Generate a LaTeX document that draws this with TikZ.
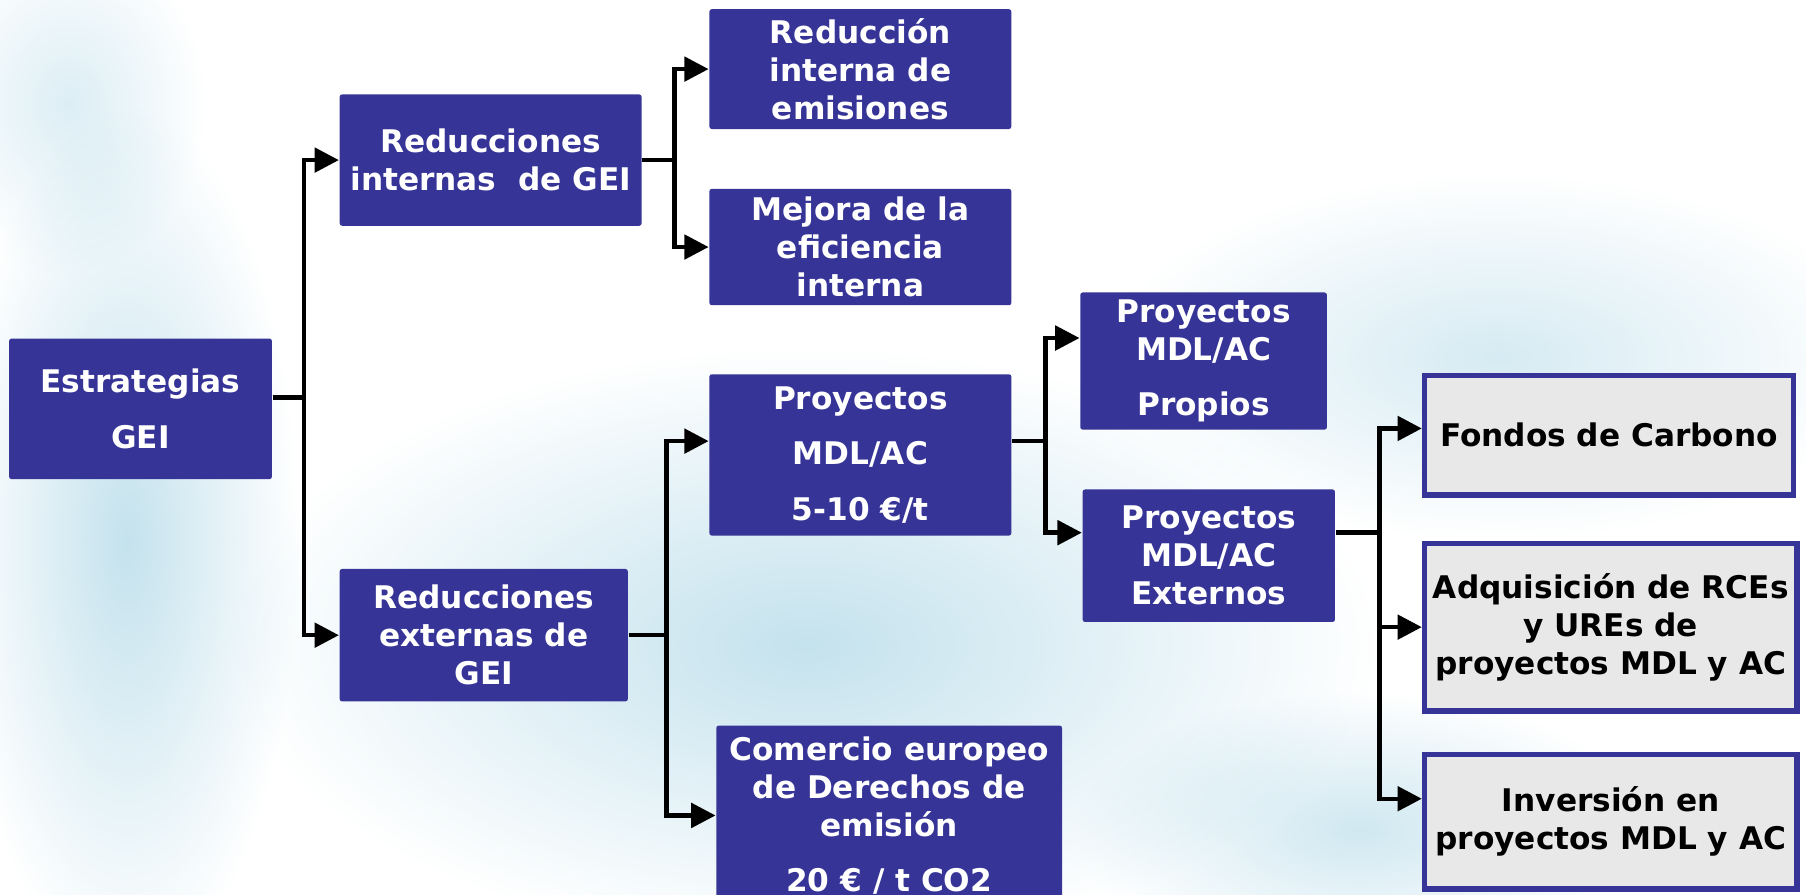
\documentclass[tikz,border=0pt]{standalone}
\usepackage{fontspec}
\setmainfont{DejaVu Sans}
\usetikzlibrary{positioning,arrows.meta}
\definecolor{boxblue}{RGB}{54,52,151}
\definecolor{boxgray}{RGB}{232,232,232}
\definecolor{haze}{RGB}{196,226,237}
\tikzset{
	boxtext/.style={font=\bfseries\fontsize{7.7}{9.4}\selectfont, align=center, inner sep=0pt},
	bluebox/.style={boxtext, rectangle, fill=boxblue, text=white, rounded corners=0.6pt},
	graybox/.style={boxtext, rectangle, draw=boxblue, line width=1.4pt, fill=boxgray, text=black},
	link/.style={line width=1.1pt, -{Triangle[length=6pt,width=6pt]}}
}

\begin{document}
\begin{tikzpicture}[x=0.01cm, y=-0.01cm]
		\useasboundingbox (0,0) rectangle (1568,777);
		\begin{scope}[blend mode=multiply]
			\shade[inner color=haze, outer color=white] (700,560) ellipse (5cm and 2.6cm);
			\shade[inner color=haze, outer color=white] (110,470) ellipse (1.5cm and 3.8cm);
			\shade[inner color=haze!70!white, outer color=white] (1300,310) ellipse (3.4cm and 1.6cm);
			\shade[inner color=haze!80!white, outer color=white] (1180,720) ellipse (2.5cm and 1.2cm);
			\shade[inner color=haze!60!white, outer color=white] (60,90) ellipse (1.2cm and 1.5cm);
		\end{scope}
		\draw (122,355) node [bluebox, minimum width=2.28cm, minimum height=1.22cm] (est) {Estrategias\\[4.3pt]GEI};
		\draw (426,139) node [bluebox, minimum width=2.62cm, minimum height=1.14cm] (rint) {Reducciones\\internas\ \ de GEI};
		\draw (747,60) node [bluebox, minimum width=2.62cm, minimum height=1.04cm] (redem) {Reducción\\interna de\\emisiones};
		\draw (747,214.5) node [bluebox, minimum width=2.62cm, minimum height=1.01cm] (mejora) {Mejora de la\\eficiencia\\interna};
		\draw (420,551.5) node [bluebox, minimum width=2.5cm, minimum height=1.15cm] (rext) {Reducciones\\externas de\\GEI};
		\draw (747,395) node [bluebox, minimum width=2.62cm, minimum height=1.4cm] (proy) {Proyectos\\[4.3pt]MDL/AC\\[4.3pt]5-10 €/t};
		\draw (772,708) node [bluebox, minimum width=3cm, minimum height=1.56cm] (comer) {Comercio europeo\\de Derechos de\\emisión\\[4.3pt]20 € / t CO2};
		\draw (1045,313.5) node [bluebox, minimum width=2.14cm, minimum height=1.19cm] (propios) {Proyectos\\MDL/AC\\[4.3pt]Propios};
		\draw (1049.5,482.5) node [bluebox, minimum width=2.19cm, minimum height=1.15cm] (ext) {Proyectos\\MDL/AC\\Externos};
		\draw (1397,378) node [graybox, minimum width=3.2cm, minimum height=1.04cm] (fondos) {Fondos de Carbono};
		\draw (1398.5,544.5) node [graybox, minimum width=3.23cm, minimum height=1.45cm] (adq) {Adquisición de RCEs\\y UREs de\\proyectos MDL y AC};
		\draw (1398.5,713.5) node [graybox, minimum width=3.23cm, minimum height=1.17cm] (inv) {Inversión en\\proyectos MDL y AC};
		\draw[link] ([yshift=1mm]est.east) -- ++(27,0) |- (rint.west);
		\draw[link] ([yshift=1mm]est.east) -- ++(27,0) |- (rext.west);
		\draw[link] (rint.east) -- ++(28,0) |- (redem.west);
		\draw[link] (rint.east) -- ++(28,0) |- (mejora.west);
		\draw[link] (rext.east) -- ++(33,0) |- ([yshift=1.2mm]proy.west);
		\draw[link] (rext.east) -- ++(33,0) |- (comer.west);
		\draw[link] ([yshift=1.2mm]proy.east) -- ++(29,0) |- ([yshift=2mm]propios.west);
		\draw[link] ([yshift=1.2mm]proy.east) -- ++(29,0) |- ([yshift=2mm]ext.west);
		\draw[link] ([yshift=2mm]ext.east) -- ++(38,0) |- ([yshift=0.6mm]fondos.west);
		\draw[link] ([yshift=2mm]ext.east) -- ++(38,0) |- (adq.west);
		\draw[link] ([yshift=2mm]ext.east) -- ++(38,0) |- ([yshift=2mm]inv.west);
\end{tikzpicture}
\end{document}
